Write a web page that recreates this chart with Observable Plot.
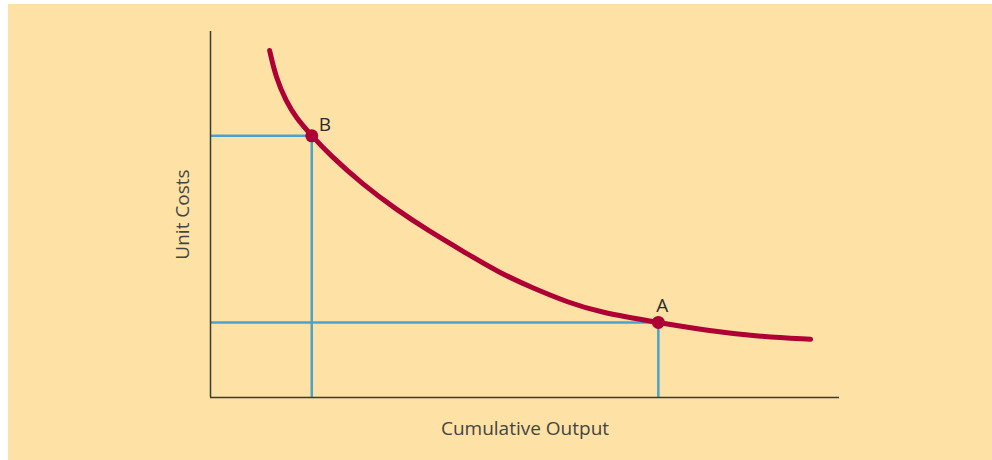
<!DOCTYPE html>
<html>
<head>
<meta charset="utf-8">
<script src="https://cdn.jsdelivr.net/npm/d3@7"></script>
<script src="https://cdn.jsdelivr.net/npm/@observablehq/plot@0.6"></script>
<style>
  html, body { margin: 0; padding: 0; background: #ffffff; }
  #wrap { padding-left: 8px; padding-top: 4px; width: 984px; height: 456px; }
  #wrap svg { display: block; background: #FEE2A5; }
</style>
</head>
<body>
<div id="wrap"></div>
<script>
// Learning curve (axes in arbitrary 0–100 units)
const curveOutput = [9.4, 10.4, 12.0, 13.6, 16.1, 18.9, 24.2, 29.5, 34.8, 40.1, 46.1, 51.4, 56.8, 62.0, 71.2, 79.0, 87.0, 95.4];
const curveCost   = [94.8, 87.4, 81.0, 76.4, 71.5, 66.4, 58.2, 51.4, 45.4, 40.0, 33.9, 29.8, 26.0, 23.2, 20.5, 18.3, 16.7, 15.9];

const pointLabels = ["B", "A"];
const pointOutput = [16.1, 71.2];
const pointCost   = [71.5, 20.5];

const xLabel = "Cumulative Output";
const yLabel = "Unit Costs";

const curve = curveOutput.map((x, i) => ({x, y: curveCost[i]}));
const points = pointLabels.map((label, i) => ({label, x: pointOutput[i], y: pointCost[i]}));

const font = "'Open Sans', Lato, sans-serif";

const chart = Plot.plot({
  width: 984,
  height: 456,
  marginLeft: 202,
  marginRight: 153,
  marginTop: 27,
  marginBottom: 63,
  x: {domain: [0, 100], axis: null},
  y: {domain: [0, 100], axis: null},
  style: {fontFamily: font, background: "#FEE2A5", overflow: "visible"},
  marks: [
    // guide lines
    Plot.ruleY(points, {y: "y", x1: 0, x2: "x", stroke: "#4AA3CE", strokeWidth: 2.5}),
    Plot.ruleX(points, {x: "x", y1: 0, y2: "y", stroke: "#4AA3CE", strokeWidth: 2.5}),
    // axes lines
    Plot.ruleX([0], {y1: 0, y2: 100, stroke: "#3a3a3a", strokeWidth: 1.5}),
    Plot.ruleY([0], {x1: 0, x2: 100, stroke: "#3a3a3a", strokeWidth: 1.5}),
    // curve
    Plot.line(curve, {x: "x", y: "y", curve: "basis", stroke: "#AE0035", strokeWidth: 5}),
    Plot.dot(points, {x: "x", y: "y", r: 6.5, fill: "#AE0035"}),
    Plot.text(points.filter(d => d.label === "B"), {x: "x", y: "y", text: "label", dx: 13, dy: -11, fontSize: 19, fill: "#2b2b2b", textAnchor: "middle"}),
    Plot.text(points.filter(d => d.label === "A"), {x: "x", y: "y", text: "label", dx: 4, dy: -17, fontSize: 19, fill: "#2b2b2b", textAnchor: "middle"}),
    // axis titles
    Plot.text([xLabel], {frameAnchor: "bottom", dy: 37, fontSize: 19, fill: "#444444", textAnchor: "middle"}),
    Plot.text([yLabel], {frameAnchor: "left", dx: -28, rotate: -90, fontSize: 19, fill: "#444444", textAnchor: "middle"})
  ]
});

document.getElementById("wrap").appendChild(chart);
</script>
</body>
</html>
